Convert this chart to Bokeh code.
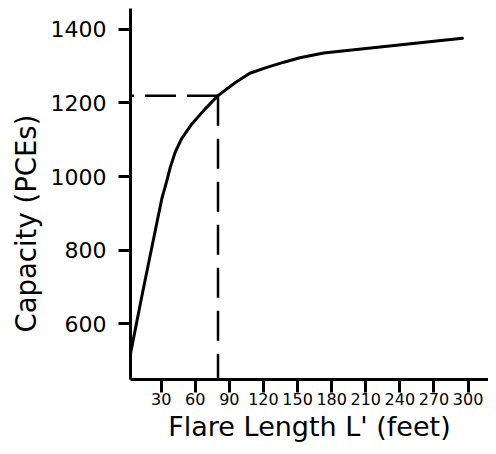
from bokeh.plotting import figure
from bokeh.models import Range1d, FixedTicker, Title, AllLabels
from bokeh.embed import file_html
from bokeh.resources import INLINE

# Data
flare_length = [3, 7, 14, 23, 30.5, 35, 38, 42.3, 48, 57, 68.7, 80, 95, 108, 123, 138, 152, 173, 295]
capacity = [518, 581, 690, 826, 939, 989, 1025, 1066, 1103, 1143, 1184, 1220, 1255, 1281, 1297, 1311, 1323, 1336, 1376]

x_ticks = [30.0, 60.0, 90.0, 120.0, 150.0, 180.0, 210.0, 240.0, 270.0, 300.0]
x_tick_labels = ["30", "60", "90", "120", "150", "180", "210", "240", "270", "300"]
y_ticks = [600, 800, 1000, 1200, 1400]

x_min, x_max = 3, 318
y_min, y_max = 448, 1457

ref_length = 80
ref_capacity = 1220

x_title = "Flare Length L' (feet)"
y_title = "Capacity (PCEs)"

FONT = "DejaVu Sans"

p = figure(width=488, height=446,
           x_range=Range1d(x_min, x_max), y_range=Range1d(y_min, y_max),
           output_backend="svg", toolbar_location=None,
           min_border_left=130, min_border_right=0,
           min_border_top=8, min_border_bottom=67)

p.outline_line_color = None
p.xgrid.grid_line_color = None
p.ygrid.grid_line_color = None
p.background_fill_color = "white"
p.border_fill_color = "white"

# Curve
p.line(flare_length, capacity, line_color="black", line_width=3,
       line_join="round", line_cap="round")

# Dashed reference lines
p.line([ref_length, x_min], [ref_capacity, ref_capacity], line_color="black",
       line_width=2.5, line_dash="31 11")
p.line([ref_length, ref_length], [ref_capacity, y_min], line_color="black",
       line_width=2.5, line_dash="30 13")

# Axes
for ax in (p.xaxis[0], p.yaxis[0]):
    ax.axis_line_color = "black"
    ax.axis_line_width = 3
    ax.major_tick_line_color = "black"
    ax.major_tick_line_width = 3
    ax.major_tick_in = 0
    ax.minor_tick_line_color = None
    ax.major_label_text_color = "black"
    ax.major_label_text_font = FONT
    ax.major_label_policy = AllLabels()
    ax.axis_label_text_font = FONT
    ax.axis_label_text_font_style = "normal"
    ax.axis_label_text_color = "black"
    ax.axis_label_text_font_size = "27px"

p.xaxis.ticker = FixedTicker(ticks=x_ticks)
p.xaxis.major_label_overrides = {t: s for t, s in zip(x_ticks, x_tick_labels)}
p.yaxis.ticker = FixedTicker(ticks=y_ticks)

p.xaxis.major_tick_out = 13
p.yaxis.major_tick_out = 12

p.xaxis.major_label_text_font_size = "16px"
p.yaxis.major_label_text_font_size = "22px"
p.xaxis.major_label_standoff = 0
p.yaxis.major_label_standoff = 12

p.xaxis.axis_label = x_title
p.xaxis.axis_label_standoff = 3

# Y title as a side title, shifted to where the reference has it
p.add_layout(Title(text=y_title, align="left", offset=47, standoff=11,
                   text_font=FONT, text_font_size="27.5px", text_font_style="normal",
                   text_color="black"), "left")

open("out.html", "w").write(file_html(p, INLINE))
